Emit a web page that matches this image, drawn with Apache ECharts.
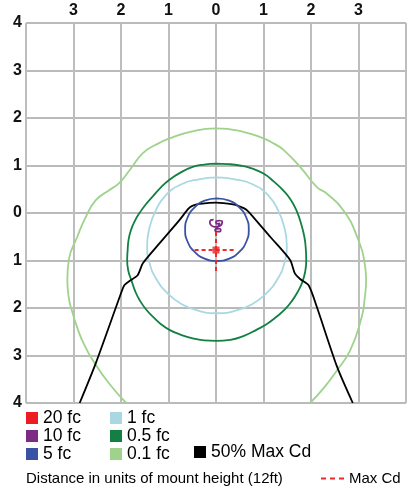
<!DOCTYPE html>
<html>
<head>
<meta charset="utf-8">
<script src="https://cdn.jsdelivr.net/npm/echarts@6/dist/echarts.min.js"></script>
<style>
  html, body { margin: 0; padding: 0; background: #fff; }
  #chart1 { width: 407px; height: 487px; }
</style>
</head>
<body>
<div id="chart1"></div>
<script>
// 数据 (units of mount height)
var xTicks = [-4, -3, -2, -1, 0, 1, 2, 3, 4];
var yTicks = [-4, -3, -2, -1, 0, 1, 2, 3, 4];

// 0.1 fc - open at the bottom edge
var fc01 = [[-1.89,-4.0],[-2.25,-3.59],[-2.6,-3.09],[-2.75,-2.82],[-2.88,-2.53],[-3.06,-1.97],[-3.11,-1.7],
  [-3.13,-1.41],[-3.1,-0.99],[-2.92,-0.5],[-2.74,-0.08],[-2.53,0.27],[-2.25,0.48],[-2.04,0.63],[-1.82,0.9],
  [-1.54,1.26],[-1.28,1.43],[-0.98,1.57],[-0.5,1.72],[0,1.78],[0.57,1.71],[1.0,1.57],[1.22,1.46],[1.42,1.33],
  [1.77,0.97],[2.12,0.55],[2.33,0.41],[2.68,0.06],[2.97,-0.5],[3.14,-1.13],[3.16,-1.41],[3.13,-1.8],
  [3.07,-2.18],[2.83,-2.88],[2.55,-3.31],[2.28,-3.67],[1.98,-4.0]];

// 0.5 fc
var fc05 = [[0,1.04],[-0.25,1.02],[-0.49,0.97],[-0.75,0.85],[-0.98,0.7],[-1.17,0.53],[-1.33,0.35],[-1.48,0.18],
  [-1.61,0.0],[-1.71,-0.17],[-1.79,-0.36],[-1.84,-0.56],[-1.86,-0.78],[-1.87,-1.0],[-1.85,-1.2],[-1.77,-1.45],
  [-1.7,-1.65],[-1.61,-1.83],[-1.48,-2.02],[-1.33,-2.18],[-1.17,-2.33],[-0.98,-2.46],[-0.75,-2.56],
  [-0.49,-2.64],[-0.25,-2.68],[0,-2.69],[0.3,-2.67],[0.6,-2.58],[0.85,-2.46],[1.08,-2.33],[1.28,-2.18],
  [1.46,-2.02],[1.6,-1.85],[1.72,-1.66],[1.82,-1.45],[1.88,-1.22],[1.9,-1.0],[1.89,-0.75],[1.86,-0.5],
  [1.79,-0.22],[1.7,0.04],[1.58,0.27],[1.42,0.47],[1.22,0.66],[1.0,0.83],[0.75,0.94],[0.5,1.0],[0.25,1.03],[0,1.04]];

// 1 fc
var fc1 = [[0.02,0.75],[-0.36,0.71],[-0.74,0.6],[-1.06,0.37],[-1.27,0.05],[-1.4,-0.31],[-1.45,-0.68],
  [-1.4,-1.05],[-1.25,-1.4],[-1.02,-1.69],[-0.72,-1.92],[-0.36,-2.06],[0.02,-2.11],[0.4,-2.06],[0.76,-1.92],
  [1.06,-1.69],[1.29,-1.4],[1.44,-1.05],[1.49,-0.68],[1.44,-0.31],[1.31,0.05],[1.1,0.37],[0.78,0.6],
  [0.4,0.71],[0.02,0.75]];

// 5 fc
var fc5 = [[0.02,0.31],[-0.24,0.26],[-0.45,0.12],[-0.6,-0.1],[-0.65,-0.35],[-0.6,-0.6],[-0.45,-0.82],
  [-0.24,-0.96],[0.02,-1.01],[0.28,-0.96],[0.49,-0.82],[0.64,-0.6],[0.69,-0.35],[0.64,-0.1],[0.49,0.12],
  [0.28,0.26],[0.02,0.31]];

// 10 fc (little squiggle)
var fc10 = [[-0.05,-0.14],[-0.11,-0.15],[-0.13,-0.2],[-0.1,-0.26],[-0.03,-0.29],[0.06,-0.28],[0.12,-0.24],
  [0.13,-0.18],[0.07,-0.16],[0.0,-0.19],[0.01,-0.23],[0.08,-0.22],[0.03,-0.3],[-0.01,-0.34],[0.06,-0.33],
  [0.1,-0.35],[0.08,-0.39],[0.01,-0.39],[-0.02,-0.36],[-0.01,-0.34]];

// 20 fc - none visible
var fc20 = [];

// 50% Max Cd
var halfCd = [[-2.87,-4.0],[-2.53,-3.16],[-2.0,-1.69],[-1.93,-1.52],[-1.82,-1.43],[-1.65,-1.31],[-1.54,-1.06],
  [-1.19,-0.64],[-0.77,-0.15],[-0.58,0.09],[-0.5,0.15],[-0.34,0.19],[0,0.22],[0.36,0.18],[0.52,0.13],
  [0.64,0.07],[0.78,-0.08],[1.14,-0.5],[1.56,-0.99],[1.66,-1.27],[1.77,-1.39],[1.95,-1.52],[2.12,-1.97],
  [2.55,-3.24],[2.88,-4.0]];

// Max Cd marker + cross
var maxCd = [[0,-0.78]];
var maxCdH = [[-0.45,-0.78],[0.43,-0.78]];
var maxCdV = [[0,-0.4],[0,-1.22]];

var FONT = '"Liberation Sans", Helvetica, Arial, sans-serif';

var myChart = echarts.init(document.getElementById('chart1'));

function contour(name, data, color, smooth) {
    return {
        name: name,
        type: 'line',
        data: data,
        color: color,
        symbol: 'none',
        smooth: smooth,
        lineStyle: { color: color, width: 1.8 },
        emphasis: { disabled: true },
        z: 3
    };
}

var legendText = { fontFamily: FONT, fontSize: 17.5, color: '#000' };

var option = {
    animation: false,
    backgroundColor: '#fff',
    title: {
        text: 'Distance in units of mount height (12ft)',
        left: 26,
        top: 471,
        padding: 0,
        textStyle: { fontFamily: FONT, fontSize: 15, fontWeight: 'normal', color: '#000' }
    },
    grid: { left: 26, right: 1, top: 23, bottom: 84 },
    legend: [
        {
            left: 26, top: 409, orient: 'vertical', padding: 0,
            itemWidth: 12, itemHeight: 12, itemGap: 0, icon: 'rect',
            selectedMode: false, textStyle: legendText,
            data: ['20 fc', '10 fc', '5 fc']
        },
        {
            left: 110, top: 409, orient: 'vertical', padding: 0,
            itemWidth: 12, itemHeight: 12, itemGap: 0, icon: 'rect',
            selectedMode: false, textStyle: legendText,
            data: ['1 fc', '0.5 fc', '0.1 fc']
        },
        {
            left: 194, top: 443, orient: 'vertical', padding: 0,
            itemWidth: 12, itemHeight: 12, icon: 'rect',
            selectedMode: false, textStyle: legendText,
            data: ['50% Max Cd']
        },
        {
            left: 321, top: 471, padding: 0,
            itemWidth: 23, itemHeight: 2,
            icon: 'path://M0,0H5V2H0Z M9,0H14V2H9Z M18,0H23V2H18Z',
            selectedMode: false,
            textStyle: { fontFamily: FONT, fontSize: 15, color: '#000' },
            data: ['Max Cd']
        }
    ],
    xAxis: {
        type: 'value',
        position: 'top',
        min: xTicks[0],
        max: xTicks[xTicks.length - 1],
        interval: 1,
        axisLine: { show: false },
        axisTick: { show: false },
        axisLabel: {
            margin: 4,
            showMinLabel: false,
            showMaxLabel: false,
            fontFamily: FONT, fontSize: 16, fontWeight: 'bold', color: '#111',
            formatter: function (v) { return String(Math.abs(v)); }
        },
        splitLine: { show: true, lineStyle: { color: '#bdbdbd', width: 2 } }
    },
    yAxis: {
        type: 'value',
        min: yTicks[0],
        max: yTicks[yTicks.length - 1],
        interval: 1,
        axisLine: { show: false },
        axisTick: { show: false },
        axisLabel: {
            margin: 4,
            fontFamily: FONT, fontSize: 16, fontWeight: 'bold', color: '#111',
            formatter: function (v) { return String(Math.abs(v)); }
        },
        splitLine: { show: true, lineStyle: { color: '#a3a3a3', width: 1.5 } }
    },
    series: [
        contour('0.1 fc', fc01, '#9fd38c', 0.5),
        contour('0.5 fc', fc05, '#128042', 0.5),
        contour('1 fc', fc1, '#a9d8e3', 0.5),
        contour('50% Max Cd', halfCd, '#000000', 0.25),
        contour('5 fc', fc5, '#3a52a3', 0.5),
        contour('10 fc', fc10, '#7c2a86', 0.5),
        contour('20 fc', fc20, '#ed1c24', 0),
        {
            name: 'Max Cd',
            type: 'line',
            data: maxCdH,
            color: '#ee2a2a',
            symbol: 'none',
            lineStyle: { color: '#ee2a2a', width: 2, type: [4, 3] },
            emphasis: { disabled: true },
            z: 4
        },
        {
            name: 'Max Cd',
            type: 'line',
            data: maxCdV,
            color: '#ee2a2a',
            symbol: 'none',
            lineStyle: { color: '#ee2a2a', width: 2, type: [4, 3] },
            emphasis: { disabled: true },
            z: 4
        },
        {
            name: 'Max Cd point',
            type: 'scatter',
            data: maxCd,
            symbol: 'rect',
            symbolSize: 7,
            itemStyle: { color: '#ee2222' },
            emphasis: { disabled: true },
            z: 5
        }
    ]
};

myChart.setOption(option);
</script>
</body>
</html>
